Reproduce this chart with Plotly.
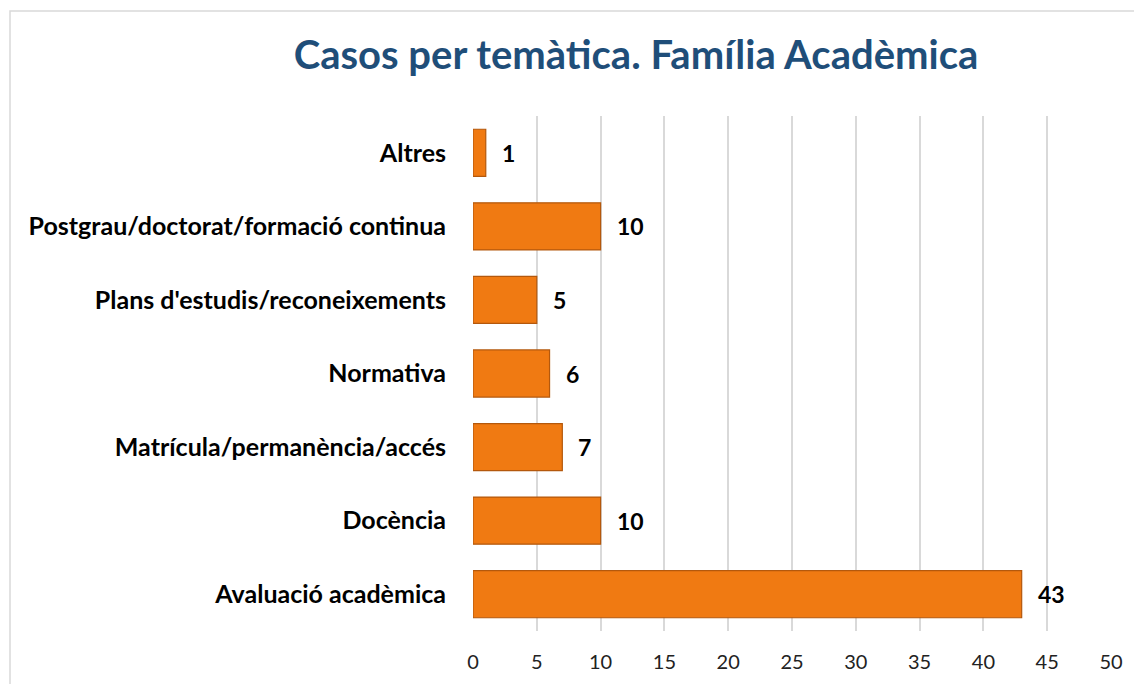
import plotly.graph_objects as go

categories = ["Avaluació acadèmica", "Docència", "Matrícula/permanència/accés",
              "Normativa", "Plans d'estudis/reconeixements",
              "Postgrau/doctorat/formació continua", "Altres"]
values = [43, 10, 7, 6, 5, 10, 1]
tick_vals = [0, 5, 10, 15, 20, 25, 30, 35, 40, 45, 50]

FONT = "Lato, Open Sans, sans-serif"
W, H = 1134, 676
L, R, T, B = 465, 31, 108, 53

fig = go.Figure()
fig.add_trace(go.Bar(
    y=categories, x=values, orientation="h",
    marker=dict(color="#F07A12", line=dict(color="#B4580C", width=1.2)),
    width=0.64,
    hoverinfo="x+y",
))
for c, v in zip(categories, values):
    fig.add_annotation(x=v, y=c, text=f"<b>{v}</b>", showarrow=False,
                       xanchor="left", xshift=14,
                       font=dict(family=FONT, size=23, color="black"))

fig.update_layout(
    width=W, height=H,
    margin=dict(l=L, r=R, t=T, b=B),
    paper_bgcolor="white", plot_bgcolor="white",
    title=dict(text="<b>Casos per temàtica. Família Acadèmica</b>",
               x=628 / W, xanchor="center", y=1 - 47 / H, yanchor="middle",
               font=dict(family=FONT, size=40, color="#1F4E79")),
    showlegend=False,
    xaxis=dict(range=[0, 50], tickvals=tick_vals, showgrid=True, gridcolor="#D9D9D9",
               gridwidth=1.5, zeroline=False, showline=False, ticklabelstandoff=17,
               tickfont=dict(family=FONT, size=20, color="#222")),
    yaxis=dict(showgrid=False, showline=False, ticks="", ticklabelstandoff=26,
               tickfont=dict(family=FONT, size=25, color="black", weight="bold")),
    font=dict(family=FONT),
)
pw = W - L - R
ph = H - T - B
fig.add_shape(type="rect", xref="paper", yref="paper",
              x0=(2 - L) / pw, x1=1.2, y0=-0.3, y1=1 + (T - 3) / ph,
              line=dict(color="#D9D9D9", width=1.5), fillcolor="rgba(0,0,0,0)", layer="below")

fig.write_html("out.html")
